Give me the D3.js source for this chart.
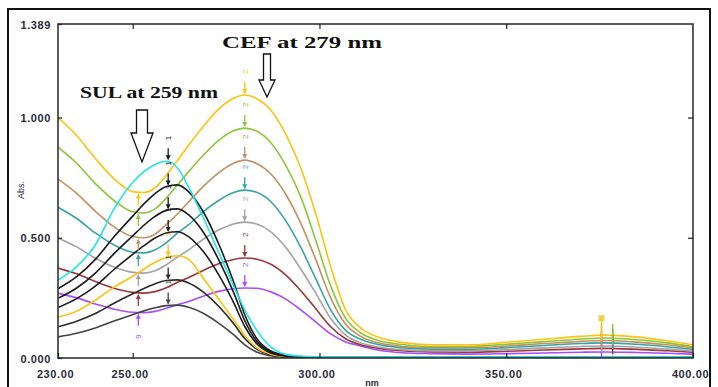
<!DOCTYPE html>
<html><head><meta charset="utf-8">
<script src="https://cdn.jsdelivr.net/npm/d3@7/dist/d3.min.js"></script>
<style>
html,body{margin:0;padding:0;background:#fff;overflow:hidden;}
svg{display:block;}
</style></head>
<body><svg id="c" width="718" height="387"></svg>
<script>
// ---- data ----
const wavelengths = [230,235,240,245,250,253,256,259,262,265,269,273,277,280,283,287,291,295,299,303,307,311,316,322,330,340,350,360,370,376,385,393,400];

const cefYellow = [1.000,0.925,0.830,0.745,0.692,0.688,0.708,0.760,0.822,0.885,0.965,1.035,1.080,1.094,1.080,1.030,0.930,0.790,0.600,0.380,0.200,0.125,0.085,0.065,0.055,0.055,0.065,0.078,0.090,0.095,0.087,0.072,0.055];
const cefGreen  = [0.877,0.810,0.725,0.655,0.608,0.603,0.620,0.665,0.720,0.775,0.845,0.905,0.945,0.956,0.945,0.895,0.800,0.670,0.490,0.300,0.165,0.105,0.072,0.056,0.048,0.048,0.057,0.068,0.079,0.083,0.076,0.063,0.048];
const cefTan    = [0.744,0.685,0.610,0.545,0.505,0.500,0.515,0.555,0.600,0.650,0.715,0.770,0.810,0.823,0.810,0.765,0.680,0.560,0.410,0.250,0.140,0.090,0.062,0.048,0.042,0.042,0.050,0.060,0.069,0.073,0.066,0.055,0.042];
const cefTeal   = [0.627,0.580,0.520,0.470,0.440,0.437,0.450,0.480,0.520,0.555,0.610,0.655,0.688,0.698,0.690,0.650,0.570,0.460,0.330,0.200,0.115,0.078,0.055,0.043,0.037,0.036,0.043,0.052,0.060,0.063,0.057,0.047,0.036];
const cefGray   = [0.499,0.462,0.415,0.378,0.356,0.353,0.363,0.388,0.420,0.450,0.495,0.532,0.557,0.565,0.558,0.525,0.460,0.370,0.270,0.165,0.095,0.063,0.045,0.035,0.030,0.030,0.035,0.042,0.048,0.050,0.045,0.037,0.029];
const cefMaroon = [0.374,0.350,0.318,0.290,0.273,0.270,0.276,0.292,0.315,0.335,0.365,0.392,0.410,0.416,0.412,0.390,0.345,0.280,0.205,0.130,0.080,0.055,0.040,0.030,0.025,0.024,0.028,0.033,0.038,0.040,0.036,0.030,0.024];
const cefPurple = [0.270,0.250,0.225,0.203,0.190,0.188,0.194,0.207,0.222,0.235,0.258,0.277,0.288,0.291,0.290,0.275,0.245,0.200,0.150,0.100,0.067,0.050,0.032,0.022,0.018,0.016,0.018,0.021,0.024,0.025,0.023,0.020,0.016];

const sulCyan   = [0.324,0.380,0.470,0.620,0.730,0.775,0.805,0.818,0.790,0.710,0.580,0.440,0.300,0.200,0.120,0.045,0.015,0.008,0.005,0.004,0.004,0.004,0.004,0.004,0.004,0.004,0.004,0.004,0.004,0.004,0.004,0.004,0.004];
const sulBlack1 = [0.288,0.338,0.410,0.504,0.590,0.641,0.684,0.713,0.720,0.691,0.605,0.475,0.317,0.180,0.086,0.029,0.011,0.004,0.002,0.002,0.002,0.002,0.002,0.002,0.002,0.002,0.002,0.002,0.002,0.002,0.002,0.002,0.002];
const sulBlack2 = [0.248,0.291,0.353,0.434,0.508,0.552,0.589,0.614,0.620,0.595,0.521,0.409,0.273,0.155,0.074,0.025,0.009,0.004,0.002,0.002,0.002,0.002,0.002,0.002,0.002,0.002,0.002,0.002,0.002,0.002,0.002,0.002,0.002];
const sulBlack3 = [0.210,0.247,0.299,0.368,0.431,0.467,0.499,0.520,0.525,0.504,0.441,0.347,0.231,0.131,0.063,0.021,0.008,0.003,0.002,0.002,0.002,0.002,0.002,0.002,0.002,0.002,0.002,0.002,0.002,0.002,0.002,0.002,0.002];
const sulYellow = [0.170,0.195,0.240,0.295,0.340,0.370,0.398,0.418,0.425,0.410,0.330,0.245,0.160,0.095,0.045,0.016,0.006,0.003,0.002,0.002,0.002,0.002,0.002,0.002,0.002,0.002,0.002,0.002,0.002,0.002,0.002,0.002,0.002];
const sulBlack4 = [0.130,0.153,0.185,0.228,0.267,0.289,0.309,0.322,0.325,0.312,0.273,0.215,0.143,0.081,0.039,0.013,0.005,0.002,0.001,0.001,0.001,0.001,0.001,0.001,0.001,0.001,0.001,0.001,0.001,0.001,0.001,0.001,0.001];
const sulBlack5 = [0.088,0.103,0.125,0.154,0.180,0.196,0.209,0.218,0.220,0.211,0.185,0.145,0.097,0.055,0.026,0.009,0.003,0.001,0.001,0.001,0.001,0.001,0.001,0.001,0.001,0.001,0.001,0.001,0.001,0.001,0.001,0.001,0.001];

const xTicks = [230,250,300,350,400];
const xTickLabels = ["230.00","250.00","300.00","350.00","400.00"];
const yTicks = [0,0.5,1.0,1.389];
const yTickLabels = ["0.000","0.500","1.000","1.389"];
const annotations = ["CEF at 279 nm","SUL at 259 nm"];

// ---- series table ----
const cefSeries = [
  {v:cefPurple, c:"#a64dff"},
  {v:cefMaroon, c:"#9c3838"},
  {v:cefGray,   c:"#a3a3a3"},
  {v:cefTeal,   c:"#36a3a6"},
  {v:cefTan,    c:"#c48f62"},
  {v:cefGreen,  c:"#8cc63a"},
  {v:cefYellow, c:"#ffc20e"}
];
const sulSeries = [
  {v:sulBlack5, c:"#444"},
  {v:sulBlack4, c:"#2a2a2a"},
  {v:sulYellow, c:"#ffc20e"},
  {v:sulBlack3, c:"#1a1a1a"},
  {v:sulBlack2, c:"#1a1a1a"},
  {v:sulBlack1, c:"#1a1a1a"},
  {v:sulCyan,   c:"#1fe6ea"}
];

// ---- layout ----
const svg = d3.select("#c");
const L = 58, R = 693, T = 24, B = 358;
const x = d3.scaleLinear().domain([230,400]).range([L,R]);
const y = d3.scaleLinear().domain([0,1.389]).range([B,T]);

// outer frame
svg.append("rect").attr("x",8).attr("y",9).attr("width",702).attr("height",390)
  .attr("fill","none").attr("stroke","#111").attr("stroke-width",2);

// clip
svg.append("clipPath").attr("id","pc").append("rect")
  .attr("x",L).attr("y",T).attr("width",R-L).attr("height",B-T);

const line = d3.line().x((d,i)=>x(wavelengths[i])).y(d=>y(d)).curve(d3.curveMonotoneX);
const gLines = svg.append("g").attr("clip-path","url(#pc)");

cefSeries.forEach(s=>{
  gLines.append("path").attr("d",line(s.v)).attr("fill","none")
    .attr("stroke",s.c).attr("stroke-width",1.6);
});
sulSeries.forEach(s=>{
  gLines.append("path").attr("d",line(s.v)).attr("fill","none")
    .attr("stroke",s.c).attr("stroke-width",1.6);
});

// peak / valley markers
const gm = svg.append("g");
function arrowDown(px, py, col, label){
  gm.append("line").attr("x1",px).attr("x2",px).attr("y1",py-13).attr("y2",py-2)
    .attr("stroke",col).attr("stroke-width",1.3);
  gm.append("path").attr("d",`M${px-2.5},${py-6}L${px+2.5},${py-6}L${px},${py-1}Z`).attr("fill",col);
  gm.append("text").attr("transform",`translate(${px+3},${py-21}) rotate(-90)`)
    .attr("font-size",8).attr("font-family","Liberation Sans, Arial").attr("fill",col).text(label);
}
function arrowUp(px, py, col, label){
  gm.append("line").attr("x1",px).attr("x2",px).attr("y1",py+2).attr("y2",py+13)
    .attr("stroke",col).attr("stroke-width",1.3);
  gm.append("path").attr("d",`M${px-2.5},${py+6}L${px+2.5},${py+6}L${px},${py+1}Z`).attr("fill",col);
  if(label) gm.append("text").attr("transform",`translate(${px+3},${py+26}) rotate(-90)`)
    .attr("font-size",8).attr("font-family","Liberation Sans, Arial").attr("fill",col).text(label);
}
const iPeakCef = wavelengths.indexOf(280), iValley = wavelengths.indexOf(253), iPeakSul = wavelengths.indexOf(259), iTail = wavelengths.indexOf(376);
cefSeries.forEach((s,k)=>{
  arrowDown(x(280), y(s.v[iPeakCef]), s.c, "2");
  arrowUp(x(251.5), y(s.v[iValley]), s.c, k===0 ? "9" : null);
});
sulSeries.forEach(s=>{
  const col = s.c === "#1fe6ea" ? "#1a1a1a" : s.c;
  arrowDown(x(259.5), y(s.v[iPeakSul]), col, "1");
});
// tail markers near 376 nm
cefSeries.forEach((s,k)=>{
  const px = x(k%2 ? 378.5 : 375.5);
  const py = y(s.v[iTail]);
  gm.append("line").attr("x1",px).attr("x2",px).attr("y1",py-14).attr("y2",py+6)
    .attr("stroke",s.c).attr("stroke-width",1.5);
});
gm.append("rect").attr("x",x(375.5)-3).attr("y",y(cefYellow[iTail])-20).attr("width",6).attr("height",6)
  .attr("fill","#e8d25a");

// axes frame
svg.append("rect").attr("x",L).attr("y",T).attr("width",R-L).attr("height",B-T)
  .attr("fill","none").attr("stroke","#333").attr("stroke-width",1.6);

const fmtX = d => xTickLabels[xTicks.indexOf(d)];
const fmtY = d => yTickLabels[yTicks.indexOf(d)];

const ax = svg.append("g").attr("transform",`translate(0,${B})`)
  .call(d3.axisBottom(x).tickValues(xTicks).tickFormat(fmtX).tickSize(-5).tickPadding(12));
ax.select(".domain").remove();
ax.selectAll("text").attr("dx",-3);

const axT = svg.append("g").attr("transform",`translate(0,${T})`)
  .call(d3.axisTop(x).tickValues(xTicks.slice(1,4)).tickFormat("").tickSize(-5));
axT.select(".domain").remove();

const ay = svg.append("g").attr("transform",`translate(${L},0)`)
  .call(d3.axisLeft(y).tickValues(yTicks).tickFormat(fmtY).tickSize(-4).tickPadding(7));
ay.select(".domain").remove();
ay.selectAll("text").attr("dy","0.38em");

const ayR = svg.append("g").attr("transform",`translate(${R},0)`)
  .call(d3.axisRight(y).tickValues([0.5,1.0]).tickFormat("").tickSize(-5));
ayR.select(".domain").remove();

svg.selectAll(".tick line").attr("stroke","#222").attr("stroke-width",1.2);
svg.selectAll(".tick text").attr("font-family","Liberation Sans, Arial")
  .attr("font-size",11).attr("font-weight","bold").attr("fill","#2b2b3a").attr("letter-spacing","0.6px");

// axis titles
svg.append("text").attr("x",372).attr("y",385.5).attr("text-anchor","middle")
  .attr("font-family","Liberation Sans, Arial").attr("font-size",9).attr("font-weight","bold")
  .attr("fill","#2b2b3a").text("nm");
svg.append("text").attr("transform","translate(24,190) rotate(-90)").attr("text-anchor","middle")
  .attr("font-family","Liberation Sans, Arial").attr("font-size",9)
  .attr("fill","#2b2b3a").text("Abs.");

// annotations
svg.append("text").attr("x",222).attr("y",48).attr("textLength",160).attr("lengthAdjust","spacingAndGlyphs")
  .attr("font-family","Liberation Serif, Times New Roman").attr("font-size",17).attr("font-weight","bold")
  .attr("fill","#111").text(annotations[0]);
svg.append("text").attr("x",80).attr("y",98).attr("textLength",138).attr("lengthAdjust","spacingAndGlyphs")
  .attr("font-family","Liberation Serif, Times New Roman").attr("font-size",17).attr("font-weight","bold")
  .attr("fill","#111").text(annotations[1]);

function hollowArrow(cx, y0, yHead, yTip, sw, hw){
  svg.append("path").attr("d",
    `M${cx-sw},${y0}L${cx+sw},${y0}L${cx+sw},${yHead}L${cx+hw},${yHead}L${cx},${yTip}L${cx-hw},${yHead}L${cx-sw},${yHead}Z`)
    .attr("fill","#fff").attr("stroke","#111").attr("stroke-width",1.3);
}
hollowArrow(267, 54, 80, 97, 3.5, 8);
hollowArrow(142, 110, 133, 162, 5.5, 11);
</script>
</body></html>
